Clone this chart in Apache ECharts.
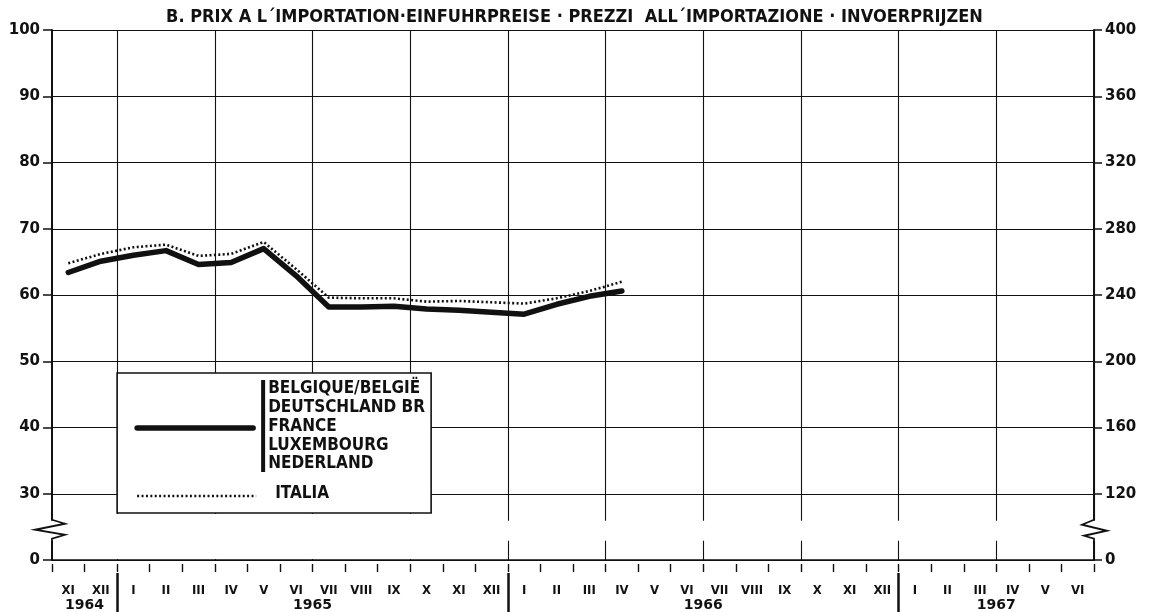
<!DOCTYPE html>
<html><head><meta charset="utf-8">
<script src="https://cdn.jsdelivr.net/npm/echarts@6/dist/echarts.min.js"></script>
<style>html,body{margin:0;padding:0;background:#fff}#c{width:1149px;height:612px}</style>
</head><body><div id="c"></div>
<script>
// ---------- data ----------
const months = ['XI','XII','I','II','III','IV','V','VI','VII','VIII','IX','X','XI','XII',
                'I','II','III','IV','V','VI','VII','VIII','IX','X','XI','XII',
                'I','II','III','IV','V','VI'];
const monthYears = [1964,1964,
  1965,1965,1965,1965,1965,1965,1965,1965,1965,1965,1965,1965,
  1966,1966,1966,1966,1966,1966,1966,1966,1966,1966,1966,1966,
  1967,1967,1967,1967,1967,1967];
const categories = months.map((m, i) => m + ' ' + monthYears[i]);

// Belgique/België, Deutschland BR, France, Luxembourg, Nederland (thick line)
const groupSix = [63.4, 65.1, 66.0, 66.7, 64.6, 64.9, 67.0, 62.9, 58.2, 58.2, 58.3, 57.9, 57.7, 57.4, 57.1, 58.6, 59.8, 60.6];
// Italia (dotted line)
const italia   = [64.8, 66.2, 67.2, 67.6, 65.9, 66.2, 68.0, 63.9, 59.6, 59.5, 59.5, 59.0, 59.1, 58.9, 58.7, 59.5, 60.6, 62.0];

const leftTicks  = [20, 30, 40, 50, 60, 70, 80, 90, 100];   // 20 is shown as "0" (broken axis)
const rightTicks = [80, 120, 160, 200, 240, 280, 320, 360, 400]; // 80 is shown as "0"
const legendNames = ['BELGIQUE/BELGIË', 'DEUTSCHLAND BR', 'FRANCE', 'LUXEMBOURG', 'NEDERLAND'];
const italiaName = 'ITALIA';
const titleText = 'B. PRIX A L\u00B4IMPORTATION\u00B7EINFUHRPREISE \u00B7 PREZZI  ALL\u00B4IMPORTAZIONE \u00B7 INVOERPRIJZEN';

// derived year spans
const years = [...new Set(monthYears)];
const yearCenters = years.map(y => {
  const first = monthYears.indexOf(y), last = monthYears.lastIndexOf(y);
  return (first + last + 1) / 2;
});
const yearStarts = years.slice(1).map(y => monthYears.indexOf(y));

// ---------- chart ----------
const NARROW = "'Liberation Sans Narrow','DejaVu Sans Condensed',sans-serif";
const NUM = "'DejaVu Sans','Liberation Sans',sans-serif";
const chart = echarts.init(document.getElementById('c'), null, {renderer: 'canvas'});
const black = '#111';

const option = {
  animation: false,
  backgroundColor: '#fff',
  title: {
    text: titleText, left: 'center', top: 3,
    textStyle: {fontFamily: NARROW, fontSize: 18, fontWeight: 'bold', color: black}
  },
  grid: {left: 52, right: 55, top: 30, bottom: 52, containLabel: false},
  xAxis: [
    { type: 'category', data: categories, boundaryGap: true, position: 'bottom',
      axisLine: {show: true, lineStyle: {color: black, width: 1.6}},
      axisTick: {show: false},
      axisLabel: {interval: 0, margin: 24, color: black, fontFamily: NARROW, fontSize: 13, fontWeight: 'bold',
                  formatter: v => v.split(' ')[0]},
      splitLine: {show: true, interval: (i) => i >= 2 && (i - 2) % 3 === 0,
                  lineStyle: {color: black, width: 1.1}} },
    { type: 'value', min: 0, max: months.length, position: 'bottom', offset: 13,
      axisLine: {show: false},
      axisTick: {show: true, customValues: yearStarts, length: 40, lineStyle: {color: black, width: 2.5}},
      axisLabel: {show: true, customValues: yearCenters, margin: 25, color: black, fontFamily: NUM,
                  fontSize: 14, fontWeight: 'bold',
                  formatter: v => { const k = yearCenters.indexOf(v); return k >= 0 ? String(years[k]) : ''; }},
      splitLine: {show: false} },
    { type: 'category', data: categories, boundaryGap: true, position: 'bottom', offset: 4,
      axisLine: {show: false},
      axisTick: {show: true, interval: 0, length: 8, lineStyle: {color: black, width: 1.4}},
      axisLabel: {show: false}, splitLine: {show: false} }
  ],
  yAxis: [
    { type: 'value', min: leftTicks[0], max: leftTicks[leftTicks.length - 1], interval: 10, position: 'left',
      axisLine: {show: true, lineStyle: {color: black, width: 2}},
      axisTick: {show: true, inside: false, length: 9, lineStyle: {color: black, width: 1.5}},
      axisLabel: {margin: 12, color: black, fontFamily: NUM, fontSize: 15, fontWeight: 'bold',
                  formatter: v => v === leftTicks[0] ? '0' : String(v)},
      splitLine: {show: true, lineStyle: {color: black, width: 1.1}} },
    { type: 'value', min: rightTicks[0], max: rightTicks[rightTicks.length - 1], interval: 40, position: 'right',
      axisLine: {show: true, lineStyle: {color: black, width: 2}},
      axisTick: {show: true, inside: false, length: 8, lineStyle: {color: black, width: 1.5}},
      axisLabel: {margin: 11, color: black, fontFamily: NUM, fontSize: 15, fontWeight: 'bold',
                  formatter: v => v === rightTicks[0] ? '0' : String(v)},
      splitLine: {show: false} }
  ],
  series: [
    { name: legendNames.join(' / '), type: 'line', data: groupSix, showSymbol: false, symbol: 'none',
      lineStyle: {color: black, width: 5.5, join: 'round', cap: 'round'}, z: 5 },
    { name: italiaName, type: 'line', data: italia, showSymbol: false, symbol: 'none',
      lineStyle: {color: black, width: 2.6, type: [2, 2.4], cap: 'butt'}, z: 6 }
  ]
};
chart.setOption(option);

// ---------- decorations: axis breaks and legend box ----------
const yOf = v => chart.convertToPixel({yAxisIndex: 0}, v);
const xOf = v => chart.convertToPixel({xAxisIndex: 1}, v);
const xL = xOf(0), xR = xOf(months.length);
const y30 = yOf(30), y0 = yOf(leftTicks[0]);
const xJan66 = xOf(yearStarts[1]);
const Z = 50;
const lbTop = 373, lbLeft = xOf(yearStarts[0]), lbW = 314, lbH = 140;
const els = [
  // hide lower gridlines of 1965 below legend
  {type: 'rect', z: Z, shape: {x: xL + 1.5, y: lbTop + lbH + 1, width: xJan66 - xL - 3.5, height: y0 - (lbTop + lbH) - 2}, style: {fill: '#fff'}},
  // break band
  {type: 'rect', z: Z, shape: {x: xL - 3, y: y30 + 27, width: xR - xL + 6, height: 20}, style: {fill: '#fff'}},
  // left zigzag
  {type: 'polyline', z: Z + 1, shape: {points: [[xL, y30 + 26], [xL + 13, y30 + 30], [xL - 17, y30 + 36], [xL + 13, y30 + 41], [xL, y30 + 45], [xL, y30 + 48]]},
   style: {stroke: black, lineWidth: 1.8, fill: null}},
  // right zigzag
  {type: 'polyline', z: Z + 1, shape: {points: [[xR, y30 + 26], [xR - 12, y30 + 31], [xR + 13, y30 + 37], [xR - 10, y30 + 42], [xR, y30 + 45], [xR, y30 + 48]]},
   style: {stroke: black, lineWidth: 1.8, fill: null}},
  // legend box
  {type: 'rect', z: Z, shape: {x: lbLeft, y: lbTop, width: lbW, height: lbH}, style: {fill: '#fff', stroke: black, lineWidth: 1.6}},
  {type: 'line', z: Z + 1, shape: {x1: lbLeft + 20, y1: 428, x2: lbLeft + 136, y2: 428}, style: {stroke: black, lineWidth: 5.5, lineCap: 'round'}},
  {type: 'rect', z: Z + 1, shape: {x: lbLeft + 144, y: 380, width: 4, height: 92}, style: {fill: black}},
  {type: 'line', z: Z + 1, shape: {x1: lbLeft + 20, y1: 496, x2: lbLeft + 139, y2: 496}, style: {stroke: black, lineWidth: 2.6, lineDash: [2, 2.4]}},
  {type: 'text', z: Z + 1, x: lbLeft + 158, y: 494, style: {text: italiaName, fill: black, font: 'bold 17px ' + NARROW, verticalAlign: 'middle'}}
];
legendNames.forEach((n, i) => {
  els.push({type: 'text', z: Z + 1, x: lbLeft + 151, y: 389 + i * 18.7,
    style: {text: n, fill: black, font: 'bold 17px ' + NARROW, verticalAlign: 'middle'}});
});
chart.setOption({graphic: {elements: els}});
</script></body></html>
